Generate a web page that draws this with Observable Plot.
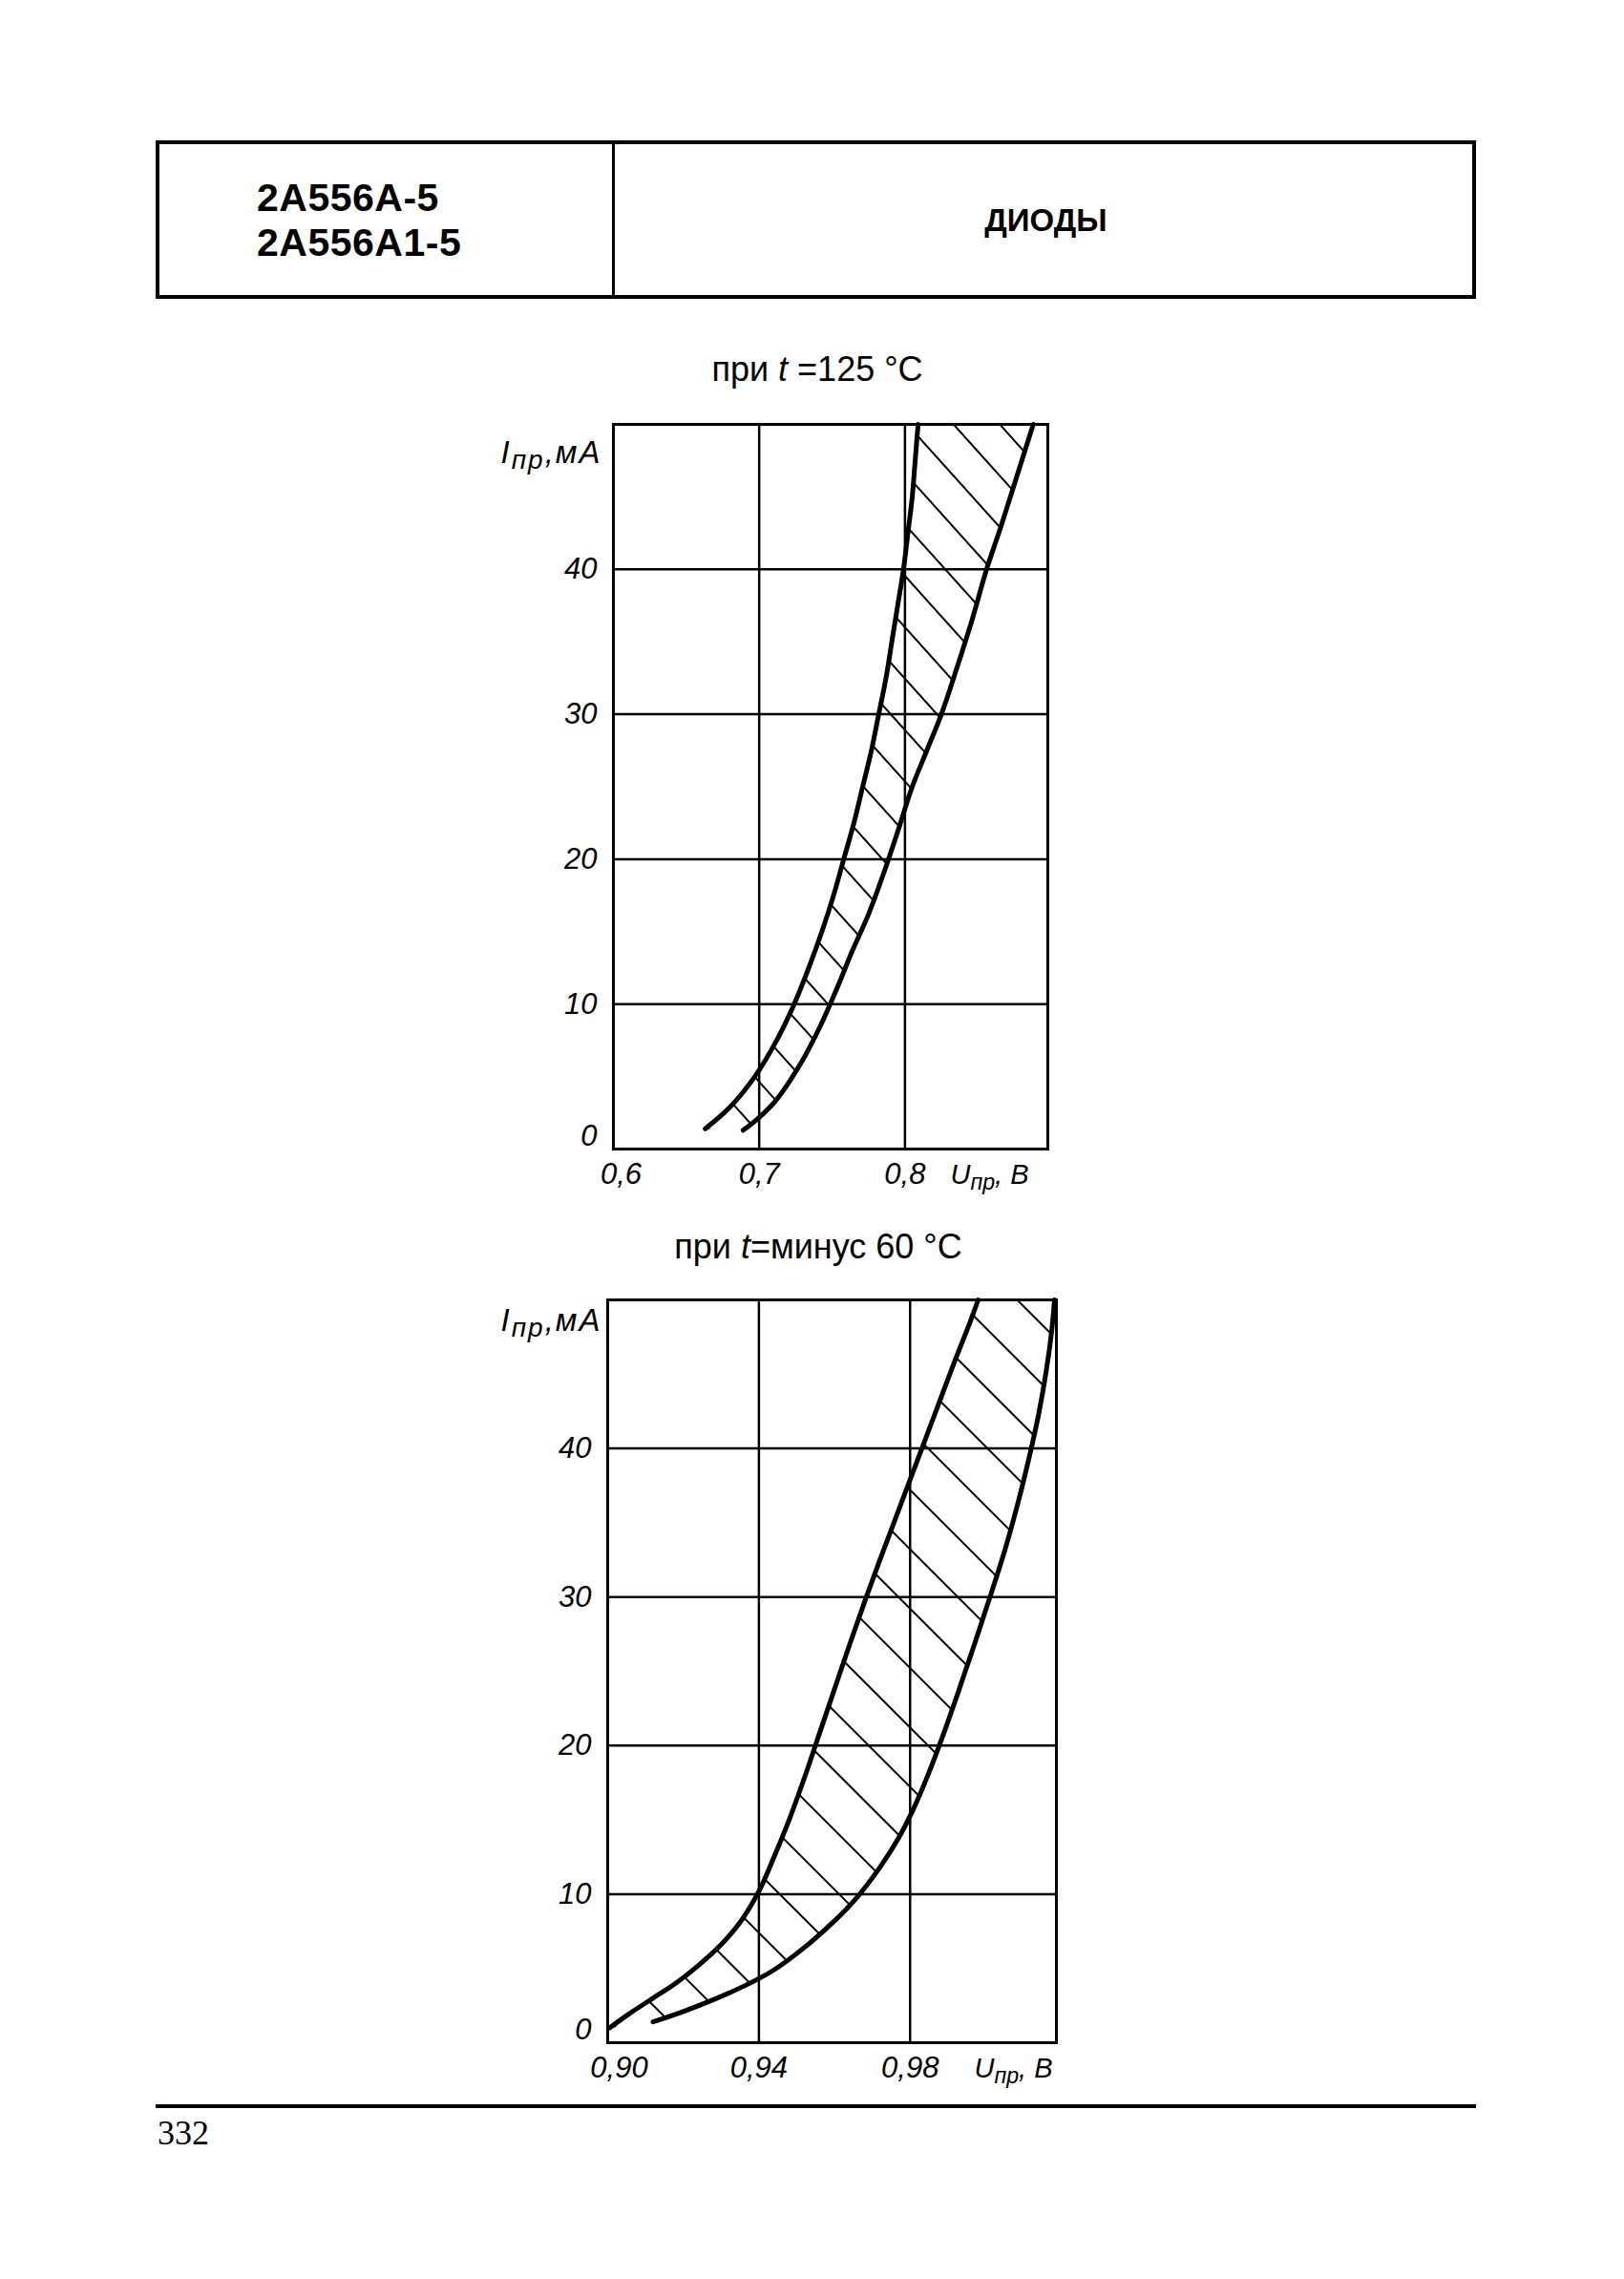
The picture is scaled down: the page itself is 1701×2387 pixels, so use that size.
<!DOCTYPE html>
<html>
<head>
<meta charset="utf-8">
<script src="https://cdn.jsdelivr.net/npm/d3@7"></script>
<script src="https://cdn.jsdelivr.net/npm/@observablehq/plot@0.6"></script>
<style>
  html, body { margin: 0; padding: 0; background: #fff; }
  body { width: 1701px; height: 2387px; position: relative; color: #000; font-family: "Liberation Sans", Arial, sans-serif; overflow: hidden; }
  .abs { position: absolute; }
  #box { left: 163px; top: 147px; width: 1383px; height: 166px; border: 4px solid #000; box-sizing: border-box; }
  #divider { left: 641px; top: 147px; width: 3px; height: 166px; background: #000; }
  .code { left: 269px; font-weight: bold; font-size: 41px; line-height: 41px; white-space: nowrap; letter-spacing: 0.5px; }
  #kind { left: 645px; width: 901px; text-align: center; top: 214px; font-weight: bold; font-size: 33px; line-height: 33px; }
  .title { width: 800px; text-align: center; font-size: 36px; line-height: 36px; white-space: nowrap; }
  #footline { left: 163px; top: 2204px; width: 1383px; height: 4px; background: #000; }
  #page { left: 165px; top: 2216px; font-family: "Liberation Serif", "Times New Roman", serif; font-size: 36px; line-height: 36px; }
  svg { background: transparent; }
</style>
</head>
<body>
<div id="box" class="abs"></div>
<div id="divider" class="abs"></div>
<div class="abs code" style="top:187px">2А556А-5</div>
<div class="abs code" style="top:234px">2А556А1-5</div>
<div id="kind" class="abs">ДИОДЫ</div>
<div class="abs title" style="left:456px; top:369px">при <i>t</i> =125 °C</div>
<div class="abs title" style="left:457px; top:1288px">при <i>t</i>=минус 60 °C</div>
<div id="chart1" class="abs" style="left:502px; top:404px"></div>
<div id="chart2" class="abs" style="left:496px; top:1321px"></div>
<div id="footline" class="abs"></div>
<div id="page" class="abs">332</div>

<script>
// ---- Data: t = 125 °C (U, В ; I, мА) ----
const topLeftU  = [0.663, 0.680, 0.697, 0.712, 0.724, 0.734, 0.743, 0.751, 0.758, 0.765, 0.771, 0.777, 0.782, 0.787, 0.791, 0.795, 0.799, 0.802, 0.805, 0.807, 0.809];
const topLeftI  = [1.4,   2.9,   5.0,   7.5,   10.0,  12.5,  15.0,  17.5,  20.0,  22.5,  25.0,  27.5,  30.0,  32.5,  35.0,  37.5,  40.0,  42.5,  45.0,  47.5,  50.0];
const topRightU = [0.689, 0.698, 0.711, 0.729, 0.742, 0.753, 0.764, 0.775, 0.786, 0.796, 0.805, 0.815, 0.825, 0.835, 0.846, 0.856, 0.866, 0.877, 0.888];
const topRightI = [1.3,   2.0,   3.3,   6.0,   8.5,   11.0,  13.7,  16.2,  19.2,  22.2,  25.0,  27.5,  30.0,  33.0,  36.5,  40.0,  43.0,  46.5,  50.0];
const topGridU  = [0.7, 0.8];
const topFirstU = [0.6];
const topDomainU = [0.6, 0.898];

// ---- Data: t = минус 60 °C ----
const botLeftU  = [0.9005, 0.906, 0.912, 0.918, 0.924, 0.930, 0.935, 0.940, 0.944, 0.948, 0.952, 0.956, 0.960, 0.964, 0.968, 0.972, 0.976, 0.980, 0.984, 0.988, 0.992, 0.996, 0.998];
const botLeftI  = [1.0,    2.0,   3.0,   4.0,   5.2,   6.6,   8.1,   10.2,  12.5,  15.0,  17.8,  20.8,  23.8,  26.8,  29.7,  32.5,  35.2,  37.9,  40.6,  43.3,  46.0,  48.6,  50.0];
const botRightU = [0.912, 0.920, 0.928, 0.936, 0.944, 0.952, 0.960, 0.966, 0.972, 0.977, 0.981, 0.985, 0.989, 0.993, 0.997, 1.001, 1.005, 1.0085, 1.0115, 1.014, 1.016, 1.0174, 1.0182];
const botRightI = [1.4,   2.1,   2.9,   3.8,   4.9,   6.4,   8.2,   9.8,   11.8,  13.8,  15.8,  18.2,  20.9,  23.8,  26.8,  29.9,  33.1,  36.3,   39.4,   42.3,  45.2,  47.8,   50.0];
const botGridU  = [0.94, 0.98];
const botFirstU = [0.90];
const botDomainU = [0.9, 1.0187];

const gridI  = [10, 20, 30, 40];
const firstI = [0];
const domainI = [0, 50];
const yLabel = "Iпр,мА";
const xLabel = "Uпр, В";

// ---- helpers ----
const pts = (U, I) => U.map((u, k) => ({u, i: I[k]}));
const band = (A, B) => [...A, ...B.slice().reverse()];
const fmt1 = d => d.toFixed(1).replace(".", ",");
const fmt2 = d => d.toFixed(2).replace(".", ",");
const NS = "http://www.w3.org/2000/svg";

function addHatch(svg, id, d, angle) {
  const defs = document.createElementNS(NS, "defs");
  const p = document.createElementNS(NS, "pattern");
  p.setAttribute("id", id);
  p.setAttribute("patternUnits", "userSpaceOnUse");
  p.setAttribute("width", d);
  p.setAttribute("height", d);
  p.setAttribute("patternTransform", `rotate(${angle})`);
  const l = document.createElementNS(NS, "line");
  l.setAttribute("x1", d / 2); l.setAttribute("x2", d / 2);
  l.setAttribute("y1", -1); l.setAttribute("y2", d + 1);
  l.setAttribute("stroke", "#000");
  l.setAttribute("stroke-width", 2);
  p.appendChild(l);
  defs.appendChild(p);
  svg.insertBefore(defs, svg.firstChild);
}

function subscript(svg, full, a, b, c, subSize, spacing) {
  svg.querySelectorAll("text").forEach(t => {
    if (t.textContent === full) {
      t.textContent = "";
      if (spacing) t.setAttribute("letter-spacing", spacing);
      const parts = [[a, null, null], [b, subSize, "6"], [c, null, "-6"]];
      for (const [s, fs, dy] of parts) {
        const ts = document.createElementNS(NS, "tspan");
        ts.textContent = s;
        if (fs) ts.setAttribute("font-size", fs);
        if (dy) ts.setAttribute("dy", dy);
        t.appendChild(ts);
      }
    }
  });
}

function makeChart(cfg) {
  const L = pts(cfg.leftU, cfg.leftI);
  const R = pts(cfg.rightU, cfg.rightI);
  const svg = Plot.plot({
    width: cfg.width, height: cfg.height,
    marginLeft: 140, marginRight: 40, marginTop: 40, marginBottom: 70,
    style: {background: "transparent", color: "#000", fontFamily: "'Liberation Sans', Arial, sans-serif", fontSize: "31px", fontStyle: "italic"},
    x: {domain: cfg.domainU, label: null},
    y: {domain: domainI, label: null},
    marks: [
      Plot.line(band(L, R), {x: "u", y: "i", fill: `url(#${cfg.hatchId})`, stroke: "none"}),
      Plot.gridX(cfg.gridU, {stroke: "#000", strokeOpacity: 1, strokeWidth: 2.5}),
      Plot.gridY(gridI, {stroke: "#000", strokeOpacity: 1, strokeWidth: 2.5}),
      Plot.frame({stroke: "#000", strokeWidth: 3}),
      Plot.line(L, {x: "u", y: "i", stroke: "#000", strokeWidth: 5, curve: "catmull-rom", strokeLinecap: "round"}),
      Plot.line(R, {x: "u", y: "i", stroke: "#000", strokeWidth: 5, curve: "catmull-rom", strokeLinecap: "round"}),
      Plot.axisY(gridI, {tickSize: 0, tickPadding: 17, label: null}),
      Plot.axisY(firstI, {tickSize: 0, tickPadding: 17, dy: -13, label: null}),
      Plot.axisX(cfg.gridU, {tickSize: 0, tickPadding: 14, tickFormat: cfg.fmt, label: null}),
      Plot.axisX(cfg.firstU, {tickSize: 0, tickPadding: 14, dx: cfg.firstDx, tickFormat: cfg.fmt, label: null}),
      Plot.text([yLabel], {text: d => d, frameAnchor: "top-left", textAnchor: "end", lineAnchor: "middle", dx: cfg.yLabelDx, dy: cfg.yLabelDy, fontSize: 33, fontStyle: "italic"}),
      Plot.text([xLabel], {text: d => d, frameAnchor: "bottom-right", textAnchor: "end", lineAnchor: "middle", dx: cfg.xLabelDx, dy: 27, fontSize: 29, fontStyle: "italic"})
    ]
  });
  addHatch(svg, cfg.hatchId, cfg.hatchD, cfg.hatchAngle);
  subscript(svg, yLabel, "I", "пр", ",мА", "0.85em", "2");
  subscript(svg, xLabel, "U", "пр", ", В", "0.8em", null);
  return svg;
}

document.getElementById("chart1").appendChild(makeChart({
  leftU: topLeftU, leftI: topLeftI, rightU: topRightU, rightI: topRightI,
  gridU: topGridU, firstU: topFirstU, domainU: topDomainU, fmt: fmt1, firstDx: 8,
  width: 635, height: 869, hatchId: "hatchTop", hatchD: 36, hatchAngle: -42,
  yLabelDx: -12, yLabelDy: 30, xLabelDx: -20
}));

document.getElementById("chart2").appendChild(makeChart({
  leftU: botLeftU, leftI: botLeftI, rightU: botRightU, rightI: botRightI,
  gridU: botGridU, firstU: botFirstU, domainU: botDomainU, fmt: fmt2, firstDx: 12,
  width: 650, height: 888, hatchId: "hatchBot", hatchD: 44, hatchAngle: -45,
  yLabelDx: -6, yLabelDy: 22, xLabelDx: -4
}));
</script>
</body>
</html>
